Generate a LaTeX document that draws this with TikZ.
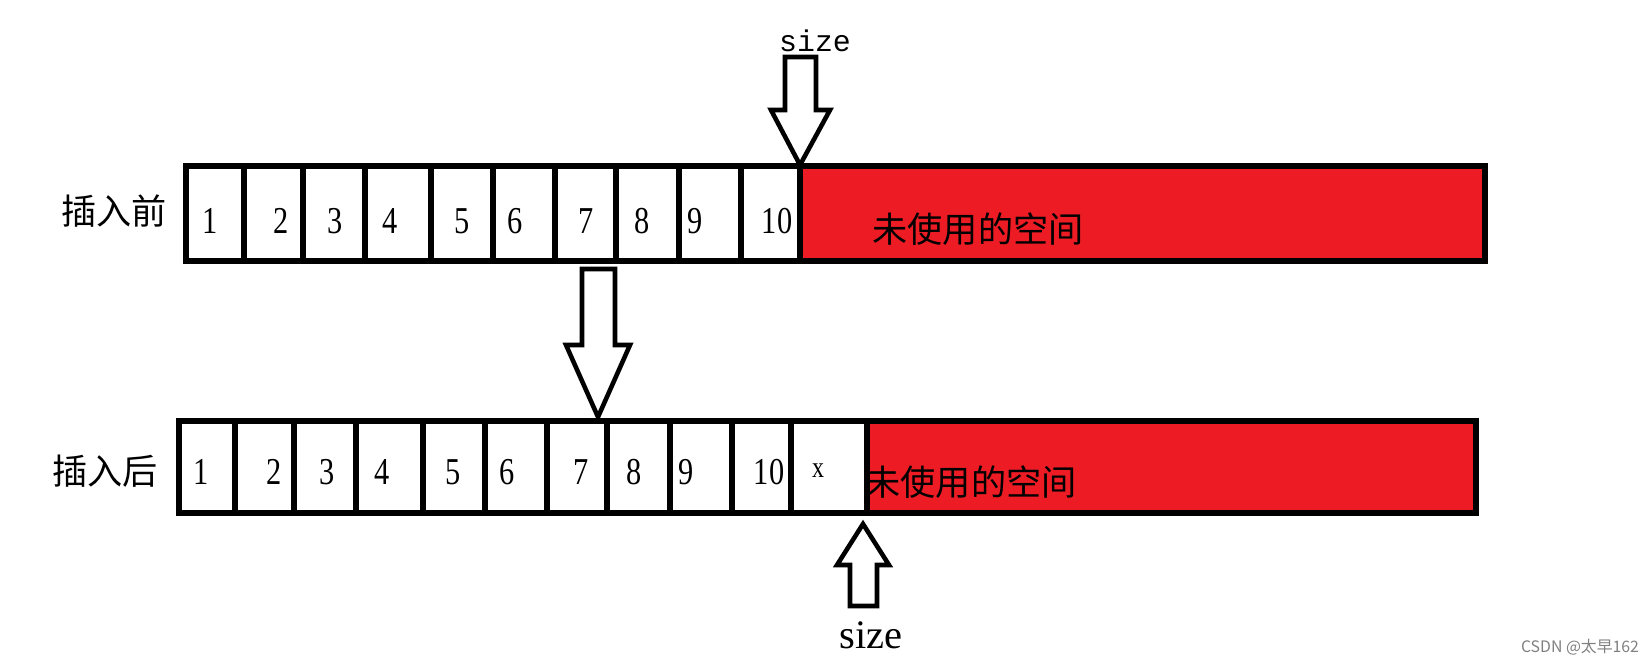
\documentclass[tikz,border=0pt]{standalone}
\usepackage{fontspec}
\setmainfont{Liberation Serif}
\newfontfamily\cjkfont{Noto Sans CJK SC}
\newfontfamily\numfont[FakeStretch=0.8]{Liberation Serif}
\newfontfamily\sizemono{Liberation Mono}
\usetikzlibrary{positioning,calc}
\definecolor{paintred}{HTML}{ED1C24}

\begin{document}
\begin{tikzpicture}[x=0.01cm, y=-0.01cm]
    \tikzset{
        cellline/.style={line width=1.5pt},
        numtext/.style={font=\numfont\fontsize{10.8}{12}\selectfont, inner sep=0pt},
        cjktext/.style={font=\cjkfont\fontsize{10}{12}\selectfont, inner sep=0pt},
        blockarrow/.style={line width=1.3pt, line join=miter, fill=white},
    }
    \useasboundingbox (0,0) rectangle (1651,664);

    % Before insertion: ten filled cells, then unused space
    \fill[paintred] (800,166) rectangle (1485,261);
    \draw[cellline] (186,166) rectangle (1485,261);
    \foreach \xx in {244,303,365,431,493,555,616,679,741,800}
        \draw[cellline] (\xx,166) -- (\xx,261);
    \foreach \xx/\lab [count=\i] in {210/1,281/2,335/3,390/4,462/5,515/6,586/7,642/8,695/9,777/10}
        \node[numtext] (before\i) at (\xx,221) {\lab};
    \node[cjktext] (beforeTitle) at (114,211) {插入前};
    \node[cjktext] (beforeFree) at (978,229) {未使用的空间};

    % After insertion: x written at position size
    \fill[paintred] (867,421) rectangle (1476,513);
    \draw[cellline] (179,421) rectangle (1476,513);
    \foreach \xx in {235,294,356,423,485,547,607,670,732,791,867}
        \draw[cellline] (\xx,421) -- (\xx,513);
    \foreach \xx/\lab [count=\i] in {201/1,274/2,327/3,382/4,453/5,507/6,581/7,634/8,686/9,769/10}
        \node[numtext] (after\i) at (\xx,472) {\lab};
    \node[font=\numfont\fontsize{8.5}{10}\selectfont, inner sep=0pt] (newItem) at (818,471) {x};
    \node[cjktext] (afterTitle) at (105,471) {插入后};
    \node[cjktext] (afterFree) at (971,482) {未使用的空间};

    % Tips of the hollow arrows
    \coordinate (sizeOldTip) at (800,165);
    \coordinate (insertTip) at (598,417);
    \coordinate (sizeNewTip) at (863,524);

    % size marker above the first row
    \node[font=\sizemono\fontsize{8.5}{10}\selectfont, inner sep=0pt] (sizeOld) at (815,41) {size};
    \draw[blockarrow] (sizeOldTip) -- ++(-29,-55) -- ++(14,0) -- ++(0,-53) -- ++(31,0)
        -- ++(0,53) -- ++(14,0) -- cycle;

    % insertion step between the rows
    \draw[blockarrow] (insertTip) -- ++(-32,-72) -- ++(16,0) -- ++(0,-76) -- ++(33,0)
        -- ++(0,76) -- ++(15,0) -- cycle;

    % size marker below the second row
    \draw[blockarrow] (sizeNewTip) -- ++(-26,41) -- ++(13,0) -- ++(0,41) -- ++(27,0)
        -- ++(0,-41) -- ++(12,0) -- cycle;
    \node[font=\fontsize{11.5}{13}\selectfont, inner sep=0pt] (sizeNew) at (871,635) {size};

    % watermark
    \node[font=\cjkfont\fontsize{4.5}{5}\selectfont, text=gray, inner sep=0pt] (mark) at (1580,647) {CSDN @太早162};
\end{tikzpicture}
\end{document}
